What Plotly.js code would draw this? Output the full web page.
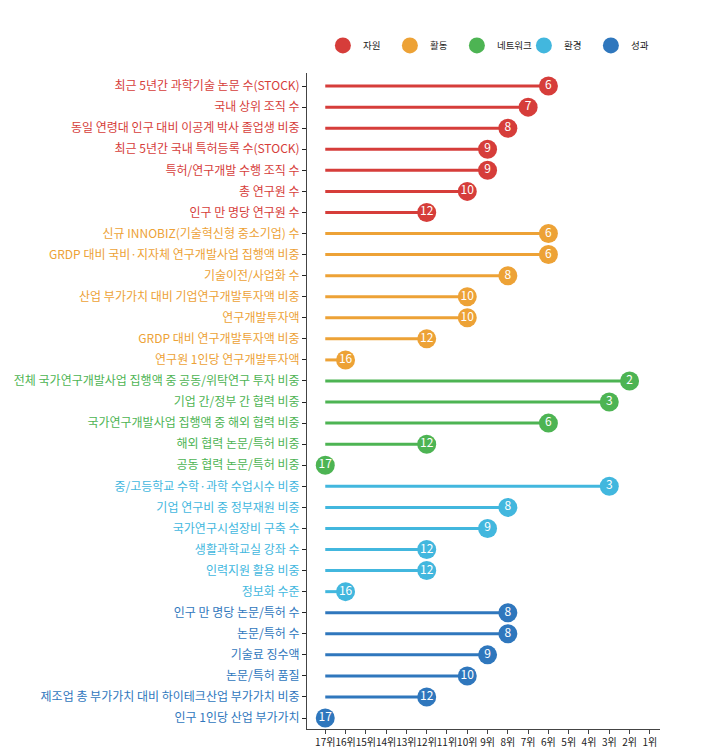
<!DOCTYPE html>
<html>
<head>
<meta charset="utf-8">
<script src="https://cdn.plot.ly/plotly-3.0.1.min.js"></script>
<style>body{margin:0;background:#fff}#chart{width:706px;height:751px}</style>
</head>
<body>
<div id="chart"></div>
<script>
// 지표명, 순위, 부문
const groups = ['자원', '활동', '네트워크', '환경', '성과'];
const groupColors = ['#d63d3a', '#eda236', '#4db453', '#42b7de', '#2f77bd'];

const labels = [
  '최근 5년간 과학기술 논문 수(STOCK)', '국내 상위 조직 수', '동일 연령대 인구 대비 이공계 박사 졸업생 비중',
  '최근 5년간 국내 특허등록 수(STOCK)', '특허/연구개발 수행 조직 수', '총 연구원 수', '인구 만 명당 연구원 수',
  '신규 INNOBIZ(기술혁신형 중소기업) 수', 'GRDP 대비 국비·지자체 연구개발사업 집행액 비중', '기술이전/사업화 수',
  '산업 부가가치 대비 기업연구개발투자액 비중', '연구개발투자액', 'GRDP 대비 연구개발투자액 비중', '연구원 1인당 연구개발투자액',
  '전체 국가연구개발사업 집행액 중 공동/위탁연구 투자 비중', '기업 간/정부 간 협력 비중', '국가연구개발사업 집행액 중 해외 협력 비중',
  '해외 협력 논문/특허 비중', '공동 협력 논문/특허 비중',
  '중/고등학교 수학·과학 수업시수 비중', '기업 연구비 중 정부재원 비중', '국가연구시설장비 구축 수',
  '생활과학교실 강좌 수', '인력지원 활용 비중', '정보화 수준',
  '인구 만 명당 논문/특허 수', '논문/특허 수', '기술료 징수액', '논문/특허 품질',
  '제조업 총 부가가치 대비 하이테크산업 부가가치 비중', '인구 1인당 산업 부가가치'
];
const ranks = [6, 7, 8, 9, 9, 10, 12,
  6, 6, 8, 10, 10, 12, 16,
  2, 3, 6, 12, 17,
  3, 8, 9, 12, 12, 16,
  8, 8, 9, 10, 12, 17];
const groupOf = [0,0,0,0,0,0,0, 1,1,1,1,1,1,1, 2,2,2,2,2, 3,3,3,3,3,3, 4,4,4,4,4,4];
const rankTicks = [17,16,15,14,13,12,11,10,9,8,7,6,5,4,3,2,1];
const baseRank = 17;

const traces = [];
groups.forEach((g, gi) => {
  const lx = [], ly = [];
  labels.forEach((l, i) => {
    if (groupOf[i] !== gi) return;
    lx.push(baseRank, ranks[i], null);
    ly.push(i, i, null);
  });
  traces.push({
    x: lx, y: ly, type: 'scatter', mode: 'lines',
    line: {color: groupColors[gi], width: 3},
    showlegend: false, hoverinfo: 'skip'
  });
});
groups.forEach((g, gi) => {
  const mx = [], my = [], mt = [];
  labels.forEach((l, i) => {
    if (groupOf[i] !== gi) return;
    mx.push(ranks[i]); my.push(i); mt.push(String(ranks[i]));
  });
  traces.push({
    x: mx, y: my, text: mt, name: g, type: 'scatter', mode: 'markers+text',
    marker: {color: groupColors[gi], size: 19},
    textposition: 'middle center',
    textfont: {color: '#ffffff', size: 12, family: 'Noto Sans CJK KR, sans-serif'},
    cliponaxis: false
  });
});

const layout = {
  width: 706, height: 751,
  margin: {l: 307, r: 46, t: 73, b: 22},
  paper_bgcolor: '#ffffff', plot_bgcolor: '#ffffff',
  font: {family: 'Noto Sans CJK KR, sans-serif', size: 12, color: '#333'},
  xaxis: {
    range: [17.9, 0.5], tickvals: rankTicks, ticktext: rankTicks.map(r => r + '위'),
    showgrid: false, zeroline: false, showline: true, linecolor: '#444', linewidth: 1,
    ticks: 'outside', ticklen: 4, tickcolor: '#444', tickangle: 0,
    tickfont: {size: 10, color: '#222'}
  },
  yaxis: {
    range: [30.52, -0.62], tickvals: labels.map((l, i) => i),
    ticktext: labels.map((l, i) => '<span style="color:' + groupColors[groupOf[i]] + '">' + l + '</span>'),
    showgrid: false, zeroline: false, showline: true, linecolor: '#444', linewidth: 1,
    ticks: 'outside', ticklen: 4, tickcolor: '#222',
    tickfont: {size: 12}
  },
  legend: {
    orientation: 'h', x: 0.045, xanchor: 'left', y: 1.02, yanchor: 'bottom',
    font: {size: 9.5, color: '#222'}, itemsizing: 'trace', itemwidth: 30,
    entrywidth: 22, entrywidthmode: 'pixels'
  },
  showlegend: true
};

Plotly.newPlot('chart', traces, layout, {displayModeBar: false});
</script>
</body>
</html>
